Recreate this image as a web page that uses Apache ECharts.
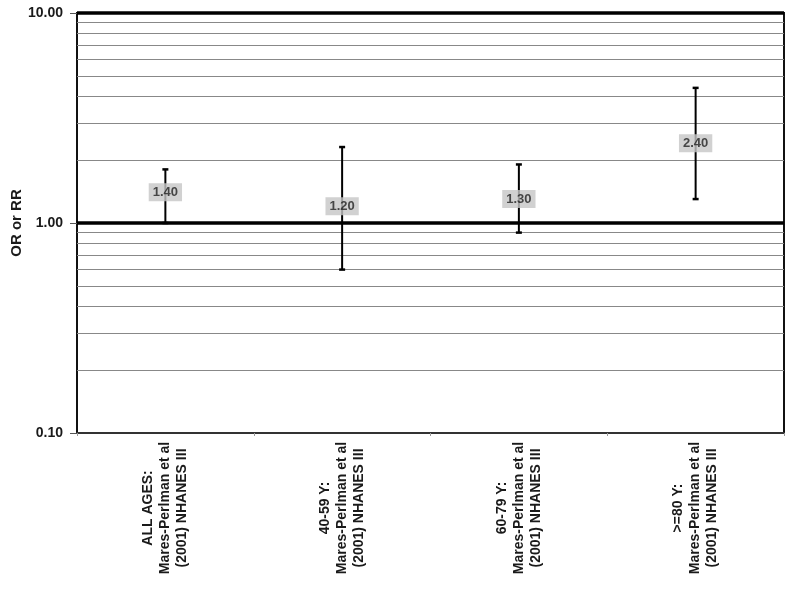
<!DOCTYPE html>
<html>
<head>
<meta charset="utf-8">
<script src="https://cdn.jsdelivr.net/npm/echarts@6/dist/echarts.min.js"></script>
<style>html,body{margin:0;padding:0;background:#fff}#c{width:793px;height:589px}</style>
</head>
<body>
<div id="c"></div>
<script>
var categories = [
  "ALL AGES:\nMares-Perlman et al\n(2001) NHANES III",
  "40-59 Y:\nMares-Perlman et al\n(2001) NHANES III",
  "60-79 Y:\nMares-Perlman et al\n(2001) NHANES III",
  ">=80 Y:\nMares-Perlman et al\n(2001) NHANES III"
];
var estimates = [1.40, 1.20, 1.30, 2.40];
var lowerCI = [1.00, 0.60, 0.90, 1.30];
var upperCI = [1.80, 2.30, 1.90, 4.40];
var minorGrid = [0.2, 0.3, 0.4, 0.5, 0.6, 0.7, 0.8, 0.9, 2, 3, 4, 5, 6, 7, 8, 9];
var majorGrid = [1, 10];
var yTickLabels = [0.1, 1, 10];

var chart = echarts.init(document.getElementById('c'));
var font = '"Liberation Sans", Arial, sans-serif';

var errData = categories.map(function (c, i) { return [i, lowerCI[i], upperCI[i]]; });
var ptData = categories.map(function (c, i) { return [i, estimates[i]]; });

chart.setOption({
  animation: false,
  grid: { left: 77, right: 9, top: 13, bottom: 156, containLabel: false, outerBoundsMode: 'none', show: true, borderColor: '#111', borderWidth: 2, backgroundColor: 'transparent' },
  xAxis: {
    type: 'category',
    data: categories,
    boundaryGap: true,
    axisLine: { lineStyle: { color: '#333', width: 2 } },
    axisTick: { show: true, length: 3, lineStyle: { color: '#999' } },
    axisLabel: {
      interval: 0, rotate: 90, align: 'center', verticalAlign: 'middle', margin: 75,
      fontFamily: font, fontWeight: 'bold', fontSize: 14, lineHeight: 17, color: '#1a1a1a'
    },
    splitLine: { show: false }
  },
  yAxis: {
    type: 'log', logBase: 10, min: 0.1, max: 10,
    name: 'OR or RR', nameLocation: 'middle', nameGap: 53, nameMoveOverlap: false,
    nameTextStyle: { fontFamily: font, fontWeight: 'bold', fontSize: 15, color: '#1a1a1a' },
    axisLine: { show: true, lineStyle: { color: '#111', width: 2 } },
    axisTick: { show: true, length: 7, lineStyle: { color: '#555' } },
    axisLabel: {
      margin: 14, fontFamily: font, fontWeight: 'bold', fontSize: 14, color: '#1a1a1a',
      formatter: function (v) { return yTickLabels.indexOf(+(+v).toPrecision(6)) >= 0 ? (+v).toFixed(2) : ''; }
    },
    splitLine: { show: false },
    minorTick: { show: false }
  },
  series: [
    {
      type: 'scatter',
      data: [],
      silent: true,
      markLine: {
        silent: true, symbol: 'none', label: { show: false }, animation: false,
        lineStyle: { color: '#888', width: 1.2, type: 'solid' },
        data: minorGrid.map(function (v) { return { yAxis: v }; })
      }
    },
    {
      type: 'scatter',
      data: [],
      silent: true,
      markLine: {
        silent: true, symbol: 'none', label: { show: false }, animation: false,
        lineStyle: { color: '#000', width: 3.5, type: 'solid' },
        data: majorGrid.map(function (v) { return { yAxis: v }; })
      }
    },
    {
      type: 'custom',
      data: errData,
      z: 5,
      renderItem: function (params, api) {
        var x = api.value(0);
        var lo = api.coord([x, api.value(1)]);
        var hi = api.coord([x, api.value(2)]);
        var cw = 3;
        var st = { stroke: '#000', lineWidth: 2 };
        var cs = { stroke: '#000', lineWidth: 2.5 };
        return {
          type: 'group',
          children: [
            { type: 'line', shape: { x1: lo[0], y1: lo[1], x2: hi[0], y2: hi[1] }, style: st },
            { type: 'line', shape: { x1: hi[0] - cw, y1: hi[1], x2: hi[0] + cw, y2: hi[1] }, style: cs },
            { type: 'line', shape: { x1: lo[0] - cw, y1: lo[1], x2: lo[0] + cw, y2: lo[1] }, style: cs }
          ]
        };
      }
    },
    {
      type: 'scatter',
      data: ptData,
      symbolSize: 1,
      itemStyle: { color: 'transparent' },
      z: 10,
      label: {
        show: true, position: 'inside',
        formatter: function (p) { return p.value[1].toFixed(2); },
        fontFamily: font, fontWeight: 'bold', fontSize: 13, color: '#222',
        backgroundColor: '#c6c6c6', padding: [3, 4, 2, 4]
      }
    }
  ]
});
</script>
</body>
</html>
